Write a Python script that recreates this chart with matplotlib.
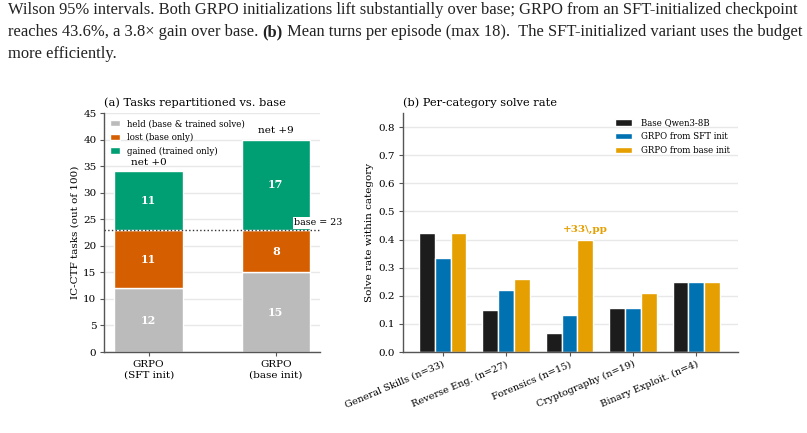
#!/usr/bin/env python3
"""
Task repartition and per-category solve rate, with caption text.
"""
import numpy as np
import matplotlib
matplotlib.use("Agg")
import matplotlib.pyplot as plt
from matplotlib.text import Annotation

# ---- data ----
runs = ["GRPO\n(SFT init)", "GRPO\n(base init)"]
held = [12, 15]
lost = [11, 8]
gained = [11, 17]
base_solved = 23

categories = ["General Skills (n=33)", "Reverse Eng. (n=27)", "Forensics (n=15)",
              "Cryptography (n=19)", "Binary Exploit. (n=4)"]
rate_base = [0.424, 0.148, 0.067, 0.158, 0.25]
rate_sft = [0.333, 0.222, 0.133, 0.158, 0.25]
rate_base_init = [0.424, 0.259, 0.400, 0.210, 0.25]
series_names = ["Base Qwen3-8B", "GRPO from SFT init", "GRPO from base init"]

caption_1 = ("Wilson 95% intervals. Both GRPO initializations lift substantially over base; "
             "GRPO from an SFT-initialized checkpoint")
caption_2a = "reaches 43.6%, a 3.8\u00d7 gain over base. "
caption_2b = "(b)"
caption_2c = " Mean turns per episode (max 18).  The SFT-initialized variant uses the budget"
caption_3 = "more efficiently."

C_HELD, C_LOST, C_GAIN = "#bbbbbb", "#d55e00", "#009e73"
C_SERIES = ["#1c1c1c", "#0072b2", "#e69f00"]

plt.rcParams["font.family"] = "DejaVu Serif"


def style_axis(ax):
    for s in ["top", "right"]:
        ax.spines[s].set_visible(False)
    for s in ["left", "bottom"]:
        ax.spines[s].set_color("#555555")
        ax.spines[s].set_linewidth(1.0)
    ax.yaxis.grid(True, color="#e8e8e8", linewidth=1.0)
    ax.set_axisbelow(True)
    ax.tick_params(labelsize=7.5, color="#555555", length=3, pad=2.5)


def main():
    fig = plt.figure(figsize=(8.07, 4.33), dpi=100)

    # ---- caption ----
    cap_font = dict(family="Liberation Serif", size=11.9, color="#222222")
    fig.text(0.010, 0.977, caption_1, va="center", ha="left", **cap_font)
    t_a = fig.text(0.010, 0.926, caption_2a, va="center", ha="left", **cap_font)
    t_b = Annotation(caption_2b, xy=(1, 0.5), xycoords=t_a, va="center", ha="left",
                     fontweight="bold", **cap_font)
    fig.add_artist(t_b)
    t_c = Annotation(caption_2c, xy=(1, 0.5), xycoords=t_b, va="center", ha="left", **cap_font)
    fig.add_artist(t_c)
    fig.text(0.010, 0.875, caption_3, va="center", ha="left", **cap_font)

    # ---- (a) stacked bars ----
    ax1 = fig.add_axes([0.129, 0.187, 0.268, 0.552])
    style_axis(ax1)
    x = np.arange(len(runs))
    w = 0.54
    held_a = np.array(held)
    lost_a = np.array(lost)
    gain_a = np.array(gained)
    ax1.bar(x, held_a, w, color=C_HELD, edgecolor="white", linewidth=1,
            label="held (base & trained solve)")
    ax1.bar(x, lost_a, w, bottom=held_a, color=C_LOST, edgecolor="white", linewidth=1,
            label="lost (base only)")
    ax1.bar(x, gain_a, w, bottom=held_a + lost_a, color=C_GAIN, edgecolor="white",
            linewidth=1, label="gained (trained only)")
    for i in range(len(runs)):
        for bottom, h in [(0, held_a[i]), (held_a[i], lost_a[i]),
                          (held_a[i] + lost_a[i], gain_a[i])]:
            ax1.text(x[i], bottom + h / 2, str(h), ha="center", va="center",
                     color="white", fontsize=8, fontweight="bold")
        top = held_a[i] + lost_a[i] + gain_a[i]
        net = gain_a[i] - lost_a[i]
        ax1.text(x[i], top + 0.8, f"net +{net}", ha="center", va="bottom", fontsize=7.5)
    ax1.axhline(base_solved, color="#333333", linestyle=":", linewidth=1)
    ax1.text(1.14, base_solved + 1.3, f"base = {base_solved}", ha="left", va="center",
             fontsize=6.8, zorder=5,
             bbox=dict(facecolor="white", edgecolor="none", pad=0.8))
    ax1.set_xlim(-0.35, 1.35)
    ax1.set_ylim(0, 45)
    ax1.set_yticks(range(0, 46, 5))
    ax1.set_xticks(x)
    ax1.set_xticklabels(runs, fontsize=7.5)
    ax1.set_ylabel("IC-CTF tasks (out of 100)", fontsize=7.5, labelpad=3)
    ax1.set_title("(a) Tasks repartitioned vs. base", fontsize=8.2, loc="left", pad=5)
    ax1.legend(loc="upper left", frameon=False, fontsize=6.2, handlelength=1.2,
               handleheight=0.8, borderaxespad=0.3, labelspacing=0.55, handletextpad=0.8)

    # ---- (b) grouped bars ----
    ax2 = fig.add_axes([0.499, 0.187, 0.415, 0.552])
    style_axis(ax2)
    xc = np.arange(len(categories))
    bw = 0.25
    for k, vals in enumerate([rate_base, rate_sft, rate_base_init]):
        ax2.bar(xc + (k - 1) * bw, vals, bw, color=C_SERIES[k], edgecolor="white",
                linewidth=1, label=series_names[k])
    fi = categories.index("Forensics (n=15)")
    gain_pp = round((rate_base_init[fi] - rate_base[fi]) * 100)
    ax2.text(xc[fi] + bw, rate_base_init[fi] + 0.02, f"+{gain_pp}\\,pp", ha="center",
             va="bottom", color=C_SERIES[2], fontsize=7.5, fontweight="bold")
    ax2.set_xlim(-0.63, 4.65)
    ax2.set_ylim(0, 0.85)
    ax2.set_yticks(np.arange(0, 0.81, 0.1))
    ax2.set_yticklabels([f"{v:.1f}" for v in np.arange(0, 0.81, 0.1)])
    ax2.set_xticks(xc)
    ax2.set_xticklabels(categories, rotation=23, ha="right", rotation_mode="anchor",
                        fontsize=7)
    ax2.set_ylabel("Solve rate within category", fontsize=7.5, labelpad=3)
    ax2.set_title("(b) Per-category solve rate", fontsize=8.2, loc="left", pad=5)
    ax2.legend(loc="upper right", frameon=False, fontsize=6.2, handlelength=2.0,
               handleheight=0.8, labelspacing=0.55, handletextpad=1.0,
               bbox_to_anchor=(1.0, 1.01))

    fig.savefig("out.png", dpi=100)


if __name__ == "__main__":
    main()
